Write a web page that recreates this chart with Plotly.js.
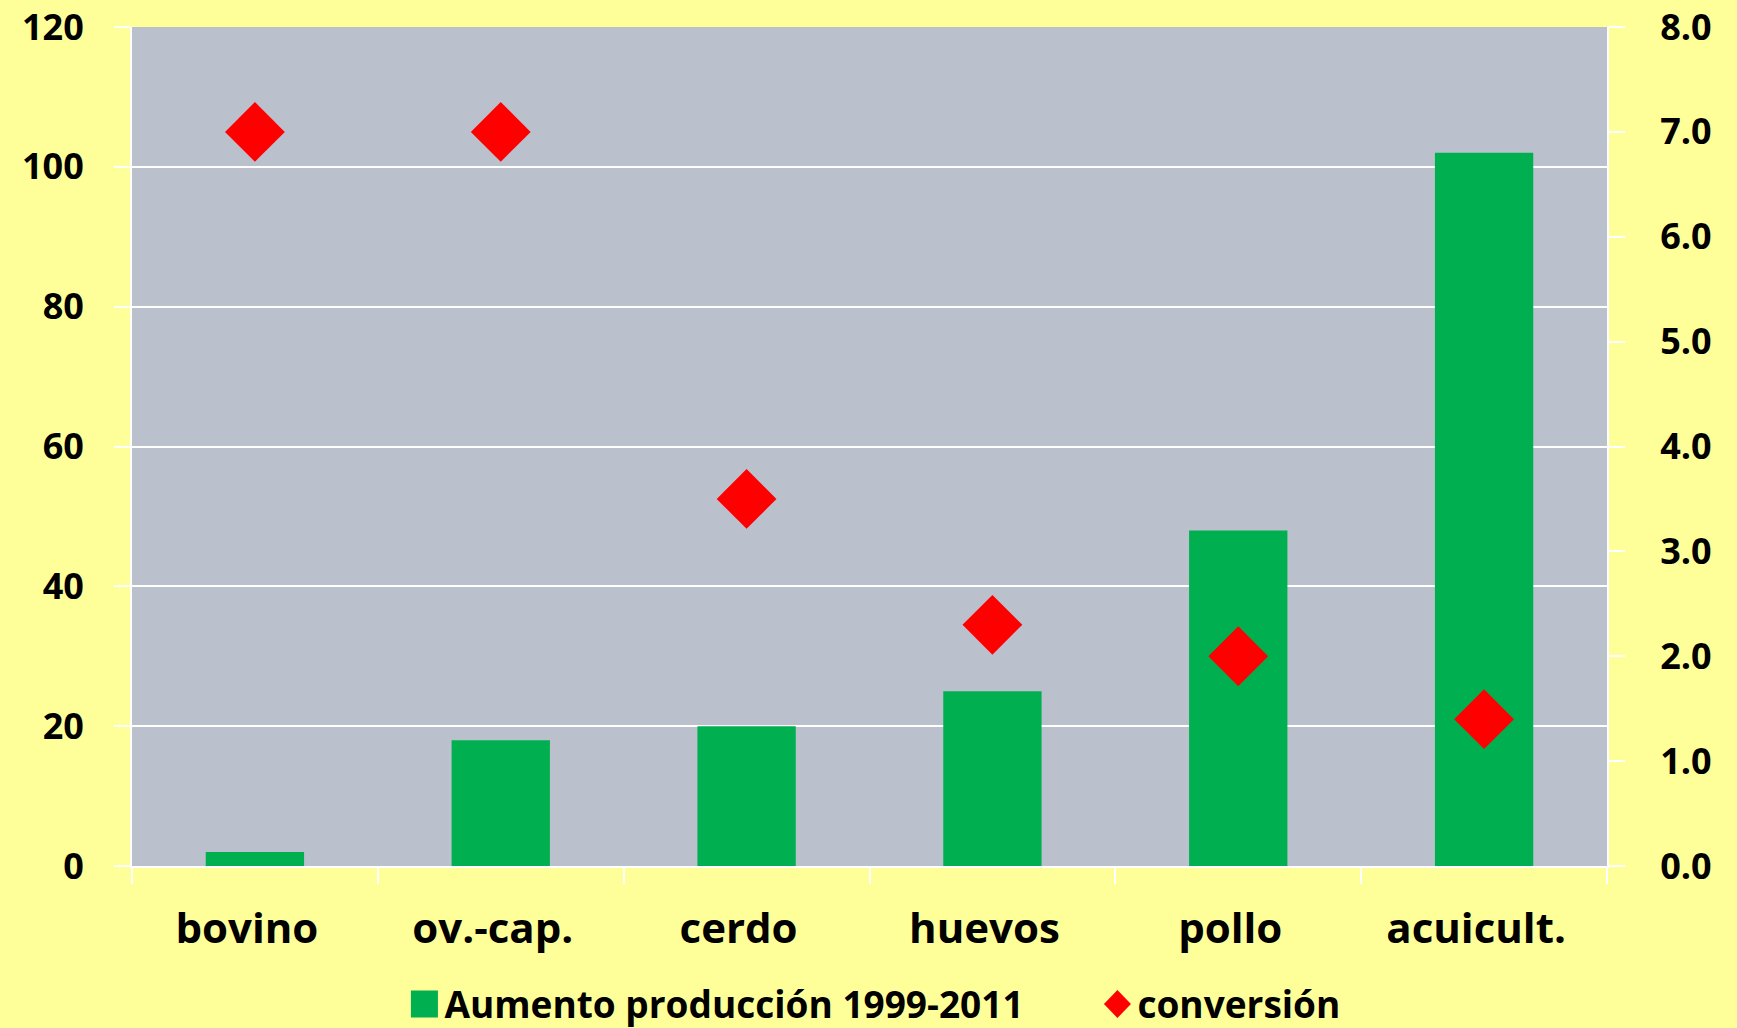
<!DOCTYPE html>
<html>
<head>
<meta charset="utf-8">
<script src="https://cdn.plot.ly/plotly-3.0.1.min.js"></script>
<style>html,body{margin:0;padding:0;background:#FFFF99;}#chart{width:1737px;height:1028px;}</style>
</head>
<body>
<div id="chart"></div>
<script>
const categories = ["bovino", "ov.-cap.", "cerdo", "huevos", "pollo", "acuicult."];
const aumentoProduccion = [2, 18, 20, 25, 48, 102];
const conversion = [7.0, 7.0, 3.5, 2.3, 2.0, 1.4];
const leftTicks = [0, 20, 40, 60, 80, 100, 120];
const rightTicks = [0, 1, 2, 3, 4, 5, 6, 7, 8];
const seriesNames = ["Aumento producción 1999-2011", "conversión"];

const fontFam = '"Open Sans", "DejaVu Sans", sans-serif';

const traces = [
  {
    type: 'bar',
    name: seriesNames[0],
    x: categories,
    y: aumentoProduccion,
    marker: {color: '#00B050', line: {width: 0}},
    yaxis: 'y'
  },
  {
    type: 'scatter',
    mode: 'markers',
    name: seriesNames[1],
    x: categories,
    y: conversion,
    marker: {symbol: 'diamond', size: 46, color: '#FF0000', line: {width: 0}},
    yaxis: 'y2',
    cliponaxis: false
  }
];

const layout = {
  width: 1737,
  height: 1028,
  paper_bgcolor: '#FFFF99',
  plot_bgcolor: '#BBC1CC',
  margin: {l: 132, r: 130, t: 27, b: 162, autoexpand: false},
  font: {family: fontFam, color: '#000000', weight: 'bold'},
  bargap: 0.6,
  showlegend: true,
  legend: {
    orientation: 'h',
    x: 0.1847, xanchor: 'left',
    y: -0.165, yanchor: 'middle',
    font: {size: 37, family: fontFam, weight: 'bold', color: '#000'},
    bgcolor: 'rgba(0,0,0,0)',
    itemsizing: 'trace',
    entrywidth: 648,
    entrywidthmode: 'pixels'
  },
  xaxis: {
    type: 'category',
    tickson: 'boundaries',
    ticks: 'outside',
    ticklen: 16,
    tickwidth: 2,
    tickcolor: '#FFFFFF',
    showline: true,
    linecolor: '#FFFFFF',
    linewidth: 2,
    showgrid: false,
    tickfont: {size: 42, family: fontFam, weight: 'bold'},
    ticklabelstandoff: 25,
    ticklabeloverflow: 'allow',
    fixedrange: true
  },
  yaxis: {
    range: [0, 120],
    tickvals: leftTicks,
    ticktext: leftTicks.map(String),
    ticks: 'outside',
    ticklen: 16,
    tickwidth: 2,
    tickcolor: '#FFFFFF',
    showline: true,
    linecolor: '#FFFFFF',
    linewidth: 2,
    showgrid: true,
    gridcolor: '#FFFFFF',
    gridwidth: 2,
    zeroline: false,
    tickfont: {size: 36, family: fontFam, weight: 'bold'},
    ticklabelstandoff: 23,
    ticklabeloverflow: 'allow'
  },
  yaxis2: {
    range: [0, 8],
    tickvals: rightTicks,
    ticktext: rightTicks.map(v => v.toFixed(1)),
    overlaying: 'y',
    side: 'right',
    ticks: 'outside',
    ticklen: 16,
    tickwidth: 2,
    tickcolor: '#FFFFFF',
    showline: true,
    linecolor: '#FFFFFF',
    linewidth: 2,
    showgrid: false,
    zeroline: false,
    tickfont: {size: 36, family: fontFam, weight: 'bold'},
    ticklabelstandoff: 28,
    ticklabeloverflow: 'allow'
  }
};

Plotly.newPlot('chart', traces, layout, {displayModeBar: false, staticPlot: true}).then(function(gd) {
  const items = gd.querySelectorAll('.legend .traces');
  if (items.length > 0) {
    items[0].querySelectorAll('.legendpoints path').forEach(p => p.setAttribute('d', 'M13.5,13.5H-13.5V-13.5H13.5Z'));
  }
  if (items.length > 1) {
    items[1].querySelectorAll('.legendpoints path').forEach(p => p.setAttribute('d', 'M13.5,0L0,14L-13.5,0L0,-14Z'));
  }
  gd.querySelectorAll('.xaxislayer-above .xtick text').forEach(t => t.setAttribute('dx', '-8'));
});
</script>
</body>
</html>
